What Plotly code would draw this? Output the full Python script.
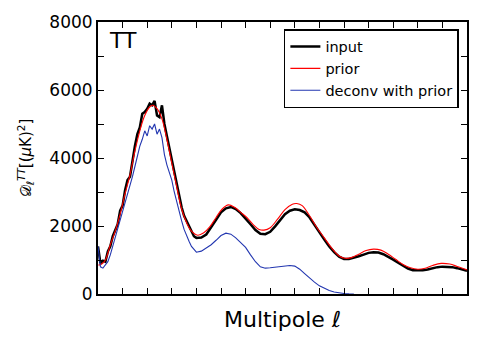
import plotly.graph_objects as go

# multipole grid of the binned spectra (10 wide up to 400, 20 wide after)
ell_bins = list(range(0, 400, 10)) + list(range(400, 1501, 20))

input_dl = [1400, 900, 980, 950, 1250, 1400, 1700, 1900, 2050, 2450,
            2600, 3050, 3350, 3450, 3950, 4350, 4700, 4900, 5300, 5350,
            5450, 5600, 5550, 5680, 5250, 5200, 5550, 5000, 4650, 4300,
            3900, 3600, 3250, 2900, 2550, 2300, 2150, 1950, 1800, 1700,
            1650, 1660, 1750, 1950, 2180, 2400, 2520, 2560, 2500, 2380,
            2200, 2050, 1880, 1770, 1760, 1830, 1990, 2170, 2350, 2450,
            2490, 2470, 2400, 2250, 2020, 1800, 1600, 1400, 1230, 1100,
            1030, 1030, 1060, 1110, 1160, 1210, 1230, 1220, 1170, 1100,
            1010, 920, 830, 750, 700, 690, 695, 720, 760, 790,
            805, 800, 790, 760, 720, 680]

ell_deconv = list(range(0, 400, 10)) + list(range(400, 1041, 20))
deconv_dl = [1400, 800, 760, 850, 950, 1150, 1400, 1650, 1900, 2150,
             2450, 2700, 2900, 3150, 3450, 3750, 4050, 4350, 4550, 4800,
             4650, 4950, 4850, 5000, 4700, 4850, 4600, 4100, 3800, 3600,
             3350, 3000, 2700, 2400, 2150, 1900, 1700, 1550, 1400, 1300,
             1230, 1260, 1350, 1450, 1580, 1720, 1790, 1760, 1650, 1500,
             1370, 1150, 950, 800, 760, 770, 790, 800, 820, 840,
             820, 730, 600, 470, 350, 240, 160, 100, 60, 30,
             15, 5, 0]

ell_prior = [2, 15, 30, 50, 70, 90, 110, 130, 150, 170, 190, 210, 222, 240,
             260, 280, 300, 320, 340, 360, 380, 405, 430, 455, 480, 505, 530,
             555, 580, 605, 630, 655, 675, 700, 730, 760, 790, 808, 830, 860,
             890, 920, 950, 980, 1005, 1030, 1060, 1090, 1120, 1150, 1180,
             1210, 1240, 1270, 1300, 1330, 1360, 1395, 1430, 1460, 1500]
prior_dl = [850, 880, 1000, 1450, 1850, 2350, 2950, 3500, 4200, 4800, 5250,
            5500, 5550, 5450, 5150, 4550, 3850, 3150, 2500, 2100, 1850, 1730,
            1800, 1980, 2250, 2500, 2620, 2550, 2400, 2250, 2050, 1900, 1880,
            1950, 2200, 2480, 2640, 2660, 2600, 2300, 1950, 1650, 1350, 1120,
            1050, 1070, 1170, 1280, 1320, 1290, 1170, 1020, 870, 770, 730,
            760, 840, 900, 880, 810, 710]

y_ticks = [0, 1000, 2000, 3000, 4000, 5000, 6000, 7000, 8000]
y_labels = ["0", "", "2000", "", "4000", "", "6000", "", "8000"]

fig = go.Figure()
fig.add_trace(go.Scatter(x=ell_bins, y=input_dl, mode="lines", name="input",
                         line=dict(color="black", width=2.5)))
fig.add_trace(go.Scatter(x=ell_prior, y=prior_dl, mode="lines", name="prior",
                         line=dict(color="#ff0000", width=1.1, shape="spline")))
fig.add_trace(go.Scatter(x=ell_deconv, y=deconv_dl, mode="lines", name="deconv with prior",
                         line=dict(color="#2236b0", width=1.1)))

fig.add_annotation(text="TT", x=0.025, y=0.985, xref="paper", yref="paper",
                   xanchor="left", yanchor="top", showarrow=False,
                   font=dict(size=22, color="black"))

axis_common = dict(showgrid=False, zeroline=False, showline=True, linecolor="black",
                   linewidth=2, mirror="ticks", ticks="inside", ticklen=6,
                   tickwidth=1, tickcolor="black")

fig.update_xaxes(range=[0, 1500], dtick=100, tick0=0, showticklabels=False,
                 title=dict(text="Multipole <i>ℓ</i>", font=dict(size=22, color="black"),
                            standoff=17),
                 **axis_common)
fig.update_yaxes(range=[0, 8000], tickvals=y_ticks, ticktext=y_labels,
                 tickfont=dict(size=17, color="black"),
                 title=dict(text="𝒟<sub>ℓ</sub><sup><i>TT</i></sup>[(<i>μ</i>K)<sup>2</sup>]",
                            font=dict(size=15, color="black"), standoff=14),
                 **axis_common)

fig.update_layout(
    width=480, height=348,
    margin=dict(l=98, r=13, t=22, b=54),
    paper_bgcolor="white", plot_bgcolor="white",
    font=dict(family="DejaVu Sans", color="black"),
    legend=dict(x=0.978, y=0.974, xanchor="right", yanchor="top",
                bgcolor="white", bordercolor="black", borderwidth=1.5,
                font=dict(size=14.5, color="black"), itemwidth=30),
)

# drop the default page margin so the figure sits at the window's corner
fig.write_html("out.html", config={"displayModeBar": False},
               post_script="document.body.style.margin='0';")
